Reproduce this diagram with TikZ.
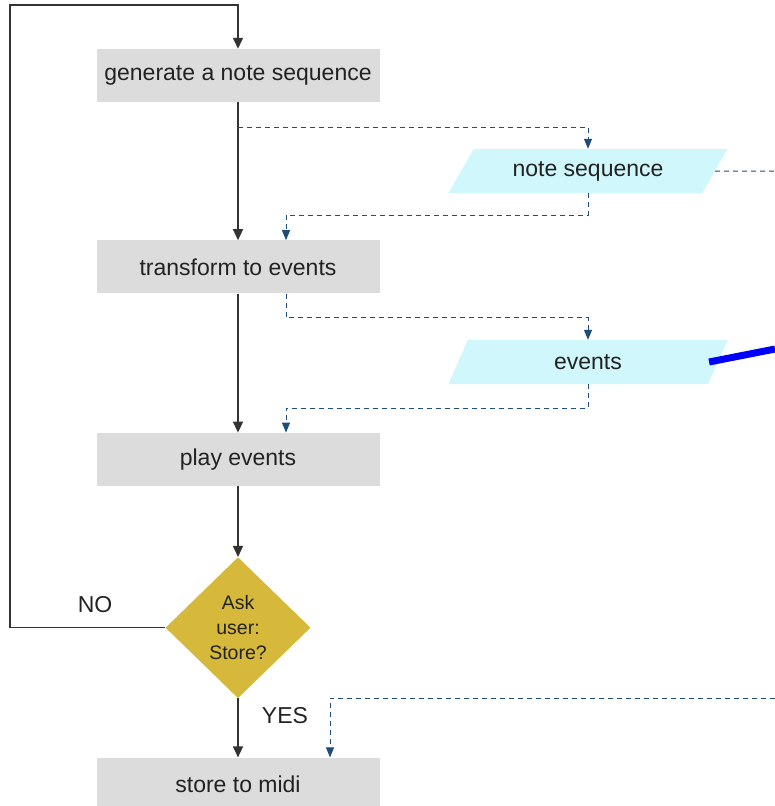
\documentclass[tikz,border=0pt]{standalone}
\usepackage{fontspec}
\setmainfont{Liberation Sans}
\usetikzlibrary{positioning, arrows.meta, shapes.geometric}
\definecolor{boxgray}{HTML}{DCDCDC}
\definecolor{datacyan}{HTML}{D0F7FB}
\definecolor{decgold}{HTML}{D6B93B}
\definecolor{flowblue}{HTML}{1E4D7B}
\definecolor{inkgray}{HTML}{222222}
\tikzset{
    process/.style={rectangle, fill=boxgray, minimum width=283pt, minimum height=53pt, inner sep=0pt, text=inkgray, font=\fontsize{23}{27}\selectfont},
    data/.style={trapezium, trapezium left angle=38, trapezium right angle=142, trapezium stretches body, fill=datacyan, minimum width=279pt, minimum height=44pt, inner sep=0pt, text=inkgray, font=\fontsize{23}{27}\selectfont},
    decision/.style={diamond, aspect=1.03, fill=decgold, minimum width=145pt, minimum height=141pt, inner sep=0pt, align=center, text=inkgray, font=\fontsize{19.5}{25}\selectfont},
    tag/.style={text=inkgray, font=\fontsize{23}{27}\selectfont},
    line/.style={-{Triangle[length=11pt, width=10pt]}, line width=1.4pt, black!80},
    dataline/.style={-{Triangle[length=10pt, width=8pt]}, dash pattern=on 5pt off 4pt, line width=1pt, flowblue},
    hilite/.style={blue, line width=7pt}
}

\begin{document}
\begin{tikzpicture}[x=1pt, y=-1pt]
    \useasboundingbox (0,0) rectangle (775,806);
    % main column
    \node (gen) [process] at (238,75.5) {generate a note sequence};
    \node (trans) [process, below=138pt of gen] {transform to events};
    \node (play) [process, below=139pt of trans] {play events};
    \node (ask) [decision, below=71pt of play] {Ask\\user:\\Store?};
    \node (store) [process, below=59pt of ask] {store to midi};

    % data
    \node (seq) [data] at (588,171) {note sequence};
    \node (ev) [data] at (588,362) {events};

    \node (no) [tag] at (95,605) {NO};
    \node (yes) [tag] at (285,716) {YES};

    \coordinate (loop) at (10,5);
    \coordinate (seqout) at (775,171);
    \coordinate (evout) at (775,349);
    \coordinate (midiin) at (775,698);

    \draw[line] (gen) -- (trans);
    \draw[line] (trans) -- (play);
    \draw[line] (play) -- (ask);
    \draw[line] (ask) -- (store);
    \draw[line] (ask.west) -| (loop) -| (gen.north);

    \draw[dataline] ([yshift=-25pt]gen.south) -| (seq.north);
    \draw[dataline] (seq.south) -- ++(0,22) -| ([xshift=48pt]trans.north);
    \draw[dataline] ([xshift=48pt]trans.south) -- ++(0,24) -| (ev.north);
    \draw[dataline] (ev.south) -- ++(0,24) -| ([xshift=48pt]play.north);
    \draw[dataline, -] (seq.east) -- (seqout);
    \draw[dataline] (midiin) -| ([xshift=92pt]store.north);
    \draw[hilite] ([xshift=-9pt]ev.east) -- (evout);
\end{tikzpicture}
\end{document}
